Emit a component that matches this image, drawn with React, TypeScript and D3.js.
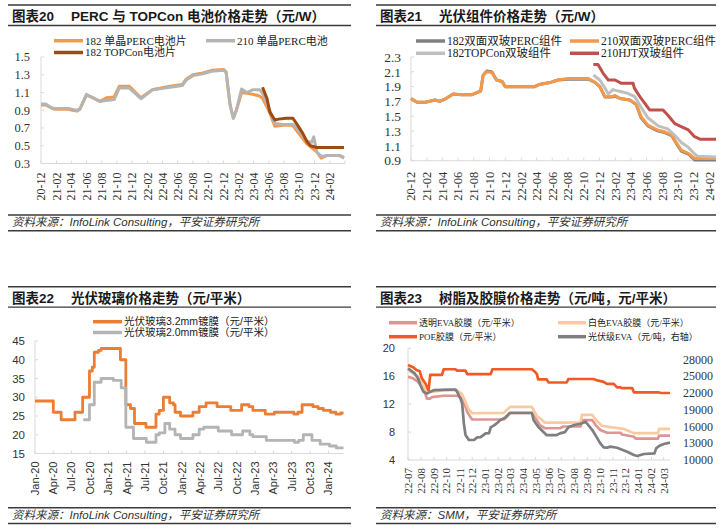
import React from "react";
import * as d3 from "d3";

type Pt = [string, number];
const parseDate = d3.timeParse("%Y-%m-%d") as (s: string) => Date;

// ---------------- 图表20 data ----------------
const C20_PERC182: Pt[] = [
  ["2020-12-01", 0.96], ["2020-12-20", 0.96], ["2021-01-10", 0.93], ["2021-01-25", 0.91], ["2021-03-20", 0.91],
  ["2021-04-05", 0.9], ["2021-04-25", 0.89], ["2021-05-05", 0.91], ["2021-06-01", 1.07], ["2021-06-20", 1.05],
  ["2021-07-25", 1.0], ["2021-08-20", 1.04], ["2021-09-20", 1.05], ["2021-10-10", 1.17], ["2021-11-20", 1.17],
  ["2022-01-05", 1.04], ["2022-02-20", 1.13], ["2022-05-01", 1.17], ["2022-06-20", 1.19], ["2022-07-05", 1.25],
  ["2022-08-01", 1.3], ["2022-09-10", 1.32], ["2022-10-15", 1.35], ["2022-12-01", 1.36], ["2022-12-12", 1.33],
  ["2022-12-28", 0.96], ["2023-01-10", 0.81], ["2023-01-22", 0.9], ["2023-02-12", 1.1], ["2023-03-05", 1.09],
  ["2023-03-28", 1.08], ["2023-04-25", 1.06], ["2023-05-08", 1.03], ["2023-06-05", 0.87], ["2023-06-25", 0.72],
  ["2023-07-28", 0.73], ["2023-09-05", 0.73], ["2023-09-20", 0.67], ["2023-11-01", 0.52], ["2023-12-10", 0.43],
  ["2023-12-28", 0.36], ["2024-01-20", 0.39], ["2024-03-10", 0.39], ["2024-03-28", 0.37],
];
const C20_PERC210: Pt[] = [
  ["2020-12-01", 0.97], ["2020-12-20", 0.97], ["2021-01-10", 0.93], ["2021-01-25", 0.92], ["2021-03-20", 0.92],
  ["2021-04-20", 0.9], ["2021-05-05", 0.91], ["2021-06-01", 1.08], ["2021-06-20", 1.05], ["2021-07-25", 1.0],
  ["2021-09-20", 1.02], ["2021-10-10", 1.15], ["2021-11-20", 1.15], ["2022-01-05", 1.03], ["2022-02-20", 1.13],
  ["2022-05-01", 1.16], ["2022-06-20", 1.18], ["2022-07-05", 1.24], ["2022-08-01", 1.29], ["2022-09-10", 1.31],
  ["2022-10-15", 1.34], ["2022-12-01", 1.35], ["2022-12-12", 1.33], ["2022-12-28", 0.96], ["2023-01-10", 0.81],
  ["2023-01-22", 0.9], ["2023-02-12", 1.14], ["2023-03-05", 1.1], ["2023-03-28", 1.13], ["2023-04-25", 1.13],
  ["2023-05-05", 1.1], ["2023-06-05", 0.9], ["2023-06-25", 0.75], ["2023-07-28", 0.74], ["2023-09-05", 0.74],
  ["2023-09-20", 0.7], ["2023-11-01", 0.55], ["2023-11-20", 0.54], ["2023-11-28", 0.6], ["2023-12-10", 0.43],
  ["2023-12-28", 0.38], ["2024-01-20", 0.39], ["2024-03-10", 0.39], ["2024-03-28", 0.36],
];
const C20_TOPCON182: Pt[] = [
  ["2023-05-07", 1.16], ["2023-05-25", 1.03], ["2023-06-05", 0.88], ["2023-06-25", 0.79], ["2023-07-10", 0.8],
  ["2023-08-10", 0.81], ["2023-09-05", 0.81], ["2023-09-20", 0.75], ["2023-10-15", 0.64], ["2023-11-01", 0.545],
  ["2023-11-15", 0.5], ["2023-12-10", 0.48], ["2024-03-28", 0.48],
];
const C20_YTICKS = [0.3, 0.5, 0.7, 0.9, 1.1, 1.3, 1.5];
const C20_LEGEND = ["182 单晶PERC电池片", "210 单晶PERC电池", "182 TOPCon电池片"];

// ---------------- 图表21 data ----------------
const C21_PERC182: Pt[] = [
  ["2020-12-01", 1.74], ["2020-12-24", 1.69], ["2021-01-25", 1.69], ["2021-02-20", 1.71], ["2021-03-04", 1.72],
  ["2021-03-22", 1.7], ["2021-04-11", 1.73], ["2021-05-13", 1.8], ["2021-06-15", 1.79], ["2021-07-23", 1.79],
  ["2021-08-13", 1.82], ["2021-08-28", 1.84], ["2021-09-06", 2.05], ["2021-09-20", 2.11], ["2021-10-10", 2.1],
  ["2021-10-28", 1.99], ["2021-11-19", 1.97], ["2021-12-01", 1.9], ["2022-03-25", 1.9], ["2022-04-12", 1.93],
  ["2022-05-28", 1.96], ["2022-06-23", 1.99], ["2022-08-01", 2.0], ["2022-10-19", 2.0], ["2022-11-12", 1.96],
  ["2022-12-02", 1.9], ["2022-12-22", 1.76], ["2023-01-16", 1.76], ["2023-01-30", 1.77], ["2023-02-18", 1.74],
  ["2023-03-28", 1.72], ["2023-04-22", 1.66], ["2023-05-11", 1.48], ["2023-06-06", 1.37], ["2023-07-16", 1.3],
  ["2023-08-10", 1.28], ["2023-09-06", 1.24], ["2023-09-25", 1.13], ["2023-10-13", 1.03], ["2023-11-10", 0.99],
  ["2023-12-04", 0.91], ["2024-02-25", 0.91],
];
const C21_PERC210: Pt[] = [
  ["2020-12-01", 1.74], ["2020-12-24", 1.69], ["2021-01-25", 1.69], ["2021-02-20", 1.71], ["2021-03-04", 1.72],
  ["2021-03-22", 1.7], ["2021-04-11", 1.73], ["2021-05-13", 1.8], ["2021-06-15", 1.79], ["2021-07-23", 1.79],
  ["2021-08-13", 1.82], ["2021-08-28", 1.84], ["2021-09-06", 2.05], ["2021-09-20", 2.1], ["2021-10-10", 2.09],
  ["2021-10-28", 1.99], ["2021-11-19", 1.97], ["2021-12-01", 1.9], ["2022-03-25", 1.9], ["2022-04-12", 1.93],
  ["2022-05-28", 1.96], ["2022-06-23", 1.99], ["2022-08-01", 2.01], ["2022-10-19", 2.01], ["2022-11-12", 1.96],
  ["2022-12-02", 1.9], ["2022-12-22", 1.765], ["2023-01-16", 1.765], ["2023-01-30", 1.78], ["2023-02-18", 1.74],
  ["2023-03-28", 1.72], ["2023-04-22", 1.66], ["2023-05-11", 1.495], ["2023-06-06", 1.38], ["2023-07-16", 1.31],
  ["2023-08-10", 1.29], ["2023-09-06", 1.25], ["2023-09-25", 1.14], ["2023-10-13", 1.044], ["2023-11-10", 1.0],
  ["2023-12-04", 0.93], ["2024-02-25", 0.93],
];
const C21_TOPCON182: Pt[] = [
  ["2022-11-07", 2.057], ["2022-12-02", 1.99], ["2022-12-22", 1.88], ["2023-01-04", 1.8], ["2023-01-22", 1.86],
  ["2023-02-12", 1.84], ["2023-03-20", 1.81], ["2023-04-15", 1.77], ["2023-05-11", 1.62], ["2023-06-06", 1.48],
  ["2023-07-16", 1.37], ["2023-08-22", 1.33], ["2023-09-19", 1.24], ["2023-10-13", 1.15], ["2023-11-10", 1.08],
  ["2023-12-04", 0.99], ["2023-12-16", 0.96], ["2024-02-25", 0.95],
];
const C21_HJT210: Pt[] = [
  ["2022-11-07", 2.2], ["2022-11-25", 2.2], ["2022-12-15", 2.08], ["2023-01-04", 1.99], ["2023-01-30", 1.99],
  ["2023-02-24", 1.945], ["2023-04-10", 1.945], ["2023-04-15", 1.88], ["2023-05-11", 1.74], ["2023-06-13", 1.585],
  ["2023-08-04", 1.585], ["2023-08-22", 1.517], ["2023-09-19", 1.4], ["2023-10-13", 1.36], ["2023-11-10", 1.315],
  ["2023-12-04", 1.224], ["2023-12-25", 1.19], ["2024-02-25", 1.19],
];
const C21_YTICKS = [0.9, 1.1, 1.3, 1.5, 1.7, 1.9, 2.1, 2.3];
const C21_LEGEND = ["182双面双玻PERC组件", "210双面双玻PERC组件", "182TOPCon双玻组件", "210HJT双玻组件"];

// ---------------- 图表22 data ----------------
const C22_GLASS32: Pt[] = [
  ["2020-01-01", 29], ["2020-04-01", 26], ["2020-05-10", 24], ["2020-07-18", 26], ["2020-08-25", 30],
  ["2020-09-28", 37], ["2020-10-12", 38], ["2020-10-22", 42], ["2020-11-12", 42.5], ["2020-11-25", 43],
  ["2021-03-01", 40], ["2021-03-28", 28], ["2021-04-20", 27], ["2021-05-10", 23], ["2021-07-06", 22],
  ["2021-08-25", 25.5], ["2021-09-10", 26.5], ["2021-10-01", 30], ["2021-11-01", 28.5], ["2021-11-20", 28],
  ["2021-11-28", 26], ["2021-12-25", 25], ["2022-02-25", 26], ["2022-03-28", 27.5], ["2022-05-01", 28.5],
  ["2022-06-25", 27.5], ["2022-09-01", 26.5], ["2022-10-25", 28], ["2022-12-01", 27.5], ["2022-12-20", 26.5],
  ["2023-02-20", 25.5], ["2023-04-06", 26], ["2023-07-12", 25.5], ["2023-08-01", 26], ["2023-08-22", 28],
  ["2023-10-15", 27.5], ["2023-11-10", 27], ["2023-12-06", 26.5], ["2024-01-10", 26], ["2024-02-06", 25.5],
  ["2024-03-01", 25.8], ["2024-03-15", 25.8],
];
const C22_GLASS20: Pt[] = [
  ["2020-08-28", 24], ["2020-09-28", 28], ["2020-10-22", 34], ["2020-11-25", 35], ["2021-01-25", 34.5],
  ["2021-03-05", 32.5], ["2021-03-28", 22], ["2021-05-05", 19], ["2021-07-08", 18], ["2021-08-25", 20],
  ["2021-09-10", 20.5], ["2021-10-08", 23], ["2021-11-01", 21.5], ["2021-11-28", 20], ["2021-12-25", 19],
  ["2022-02-25", 20], ["2022-03-28", 21.5], ["2022-04-20", 22], ["2022-07-01", 21], ["2022-09-05", 20],
  ["2022-10-30", 21], ["2022-12-05", 20], ["2022-12-20", 19.5], ["2023-02-25", 18.5], ["2023-07-15", 18],
  ["2023-08-05", 18.5], ["2023-08-28", 20], ["2023-10-10", 18.5], ["2023-11-20", 17.5], ["2024-01-05", 17],
  ["2024-02-08", 16.5], ["2024-03-15", 16.5],
];
const C22_YTICKS = [15, 20, 25, 30, 35, 40, 45];
const C22_LEGEND = ["光伏玻璃3.2mm镀膜（元/平米）", "光伏玻璃2.0mm镀膜（元/平米）"];

// ---------------- 图表23 data ----------------
const C23_EVA_CLEAR: Pt[] = [
  ["2022-07-01", 15.9], ["2022-07-13", 15.7], ["2022-07-25", 15.2], ["2022-08-03", 14.5], ["2022-08-11", 13.55],
  ["2022-08-15", 12.8], ["2022-08-23", 12.8], ["2022-08-27", 13.0], ["2022-09-24", 13.2], ["2022-10-26", 13.2],
  ["2022-11-03", 13.0], ["2022-11-11", 12.35], ["2022-11-19", 10.9], ["2022-11-27", 10.1], ["2022-12-01", 9.8],
  ["2023-02-14", 9.8], ["2023-02-18", 10.0], ["2023-03-01", 10.7], ["2023-04-22", 10.7], ["2023-05-04", 9.7],
  ["2023-05-11", 9.0], ["2023-05-23", 8.55], ["2023-06-28", 8.55], ["2023-07-06", 8.8], ["2023-08-16", 8.8],
  ["2023-08-19", 9.7], ["2023-09-13", 9.7], ["2023-09-21", 9.0], ["2023-10-02", 8.3], ["2023-10-18", 7.9],
  ["2023-11-19", 7.9], ["2023-11-23", 7.65], ["2023-12-21", 7.33], ["2023-12-25", 7.05], ["2024-02-16", 7.05],
  ["2024-02-19", 7.5], ["2024-03-16", 7.5],
];
const C23_EVA_WHITE: Pt[] = [
  ["2022-07-01", 16.9], ["2022-07-25", 15.9], ["2022-08-07", 14.5], ["2022-08-15", 13.8], ["2022-08-31", 13.8],
  ["2022-09-24", 14.0], ["2022-10-26", 14.0], ["2022-11-07", 13.4], ["2022-11-15", 12.3], ["2022-11-23", 11.2],
  ["2022-12-01", 10.7], ["2023-02-14", 10.75], ["2023-03-01", 11.6], ["2023-04-22", 11.6], ["2023-05-04", 10.3],
  ["2023-05-11", 10.0], ["2023-05-23", 9.35], ["2023-07-06", 9.35], ["2023-08-16", 9.4], ["2023-08-19", 10.45],
  ["2023-09-13", 10.45], ["2023-09-25", 9.5], ["2023-10-06", 8.9], ["2023-10-26", 8.7], ["2023-11-27", 8.45],
  ["2023-12-21", 7.85], ["2024-02-16", 7.85], ["2024-02-19", 8.45], ["2024-03-16", 8.45],
];
const C23_POE: Pt[] = [
  ["2022-07-01", 17.6], ["2022-07-13", 17.3], ["2022-07-21", 16.9], ["2022-07-29", 16.7], ["2022-08-03", 15.7],
  ["2022-08-11", 15.0], ["2022-08-15", 14.5], ["2022-08-19", 14.0], ["2022-08-23", 16.2], ["2022-09-20", 16.2],
  ["2022-09-24", 17.0], ["2022-10-22", 17.0], ["2022-10-26", 16.8], ["2022-11-15", 16.8], ["2022-11-19", 16.3],
  ["2023-01-14", 16.3], ["2023-01-18", 17.0], ["2023-04-22", 17.0], ["2023-04-30", 16.6], ["2023-05-04", 16.3],
  ["2023-05-07", 15.55], ["2023-05-27", 15.55], ["2023-06-01", 15.1], ["2023-07-14", 15.1], ["2023-07-18", 15.6],
  ["2023-09-16", 15.6], ["2023-09-25", 15.4], ["2023-10-10", 15.2], ["2023-10-18", 14.9], ["2023-11-03", 14.9],
  ["2023-11-11", 14.4], ["2023-11-19", 14.4], ["2023-11-23", 14.3], ["2023-12-17", 14.3], ["2023-12-21", 13.7],
  ["2024-02-16", 13.7], ["2024-02-24", 13.6], ["2024-03-16", 13.6],
];
const C23_EVA_RESIN: Pt[] = [
  ["2022-07-01", 26400], ["2022-07-17", 25500], ["2022-07-25", 24600], ["2022-07-29", 23700], ["2022-08-03", 22800],
  ["2022-08-07", 22200], ["2022-08-15", 21900], ["2022-08-23", 22200], ["2022-08-31", 22500], ["2022-10-10", 22600],
  ["2022-10-22", 22600], ["2022-10-26", 22200], ["2022-11-03", 21000], ["2022-11-07", 20100], ["2022-11-11", 16560],
  ["2022-11-15", 14470], ["2022-11-23", 13580], ["2022-12-05", 13580], ["2022-12-13", 14060], ["2022-12-21", 14100],
  ["2023-01-02", 14770], ["2023-01-10", 14800], ["2023-01-14", 15850], ["2023-01-22", 16200], ["2023-01-30", 16670],
  ["2023-02-06", 17150], ["2023-02-18", 17630], ["2023-03-01", 18460], ["2023-04-22", 18460], ["2023-04-26", 17150],
  ["2023-05-07", 15960], ["2023-05-19", 15060], ["2023-05-27", 14470], ["2023-06-20", 14470], ["2023-06-28", 14770],
  ["2023-07-10", 15000], ["2023-07-18", 15850], ["2023-08-01", 16260], ["2023-08-16", 16500], ["2023-08-28", 16850],
  ["2023-09-13", 15360], ["2023-09-25", 13880], ["2023-10-02", 12980], ["2023-10-10", 12270], ["2023-10-18", 12200],
  ["2023-10-26", 12400], ["2023-11-11", 12200], ["2023-12-05", 11490], ["2023-12-21", 10890], ["2023-12-29", 10710],
  ["2024-01-14", 11070], ["2024-02-08", 11190], ["2024-02-12", 12090], ["2024-02-19", 12500], ["2024-03-01", 12860],
  ["2024-03-16", 13100],
];
const C23_YTICKS_L = [4, 8, 12, 16, 20];
const C23_YTICKS_R = [10000, 13000, 16000, 19000, 22000, 25000, 28000];
const C23_LEGEND = ["透明EVA胶膜（元/平米）", "白色EVA胶膜（元/平米）", "POE胶膜（元/平米）", "光伏级EVA（元/吨，右轴）"];

// ---------------- styling ----------------
const SERIF = "'Liberation Serif','Times New Roman','Noto Sans CJK SC',serif";
const SANS = "'Liberation Sans',Arial,'Noto Sans CJK SC',sans-serif";
const AXIS = "#D9D9D9";
const RULE = "#3a3a3a";

type LineProps = { data: Pt[]; x: (d: Date) => number; y: (v: number) => number; color: string; w?: number; step?: boolean };
function Series({ data, x, y, color, w = 3, step }: LineProps) {
  const gen = d3
    .line<Pt>()
    .x((d) => x(parseDate(d[0])))
    .y((d) => y(d[1]))
    .curve(step ? d3.curveStepAfter : d3.curveLinear);
  return <path d={gen(data) || ""} fill="none" stroke={color} strokeWidth={w} strokeLinejoin="round" />;
}

type FrameProps = { x0: number; x1: number; top: number; tag: string; title: string; source: string };
function Frame({ x0, x1, top, tag, title, source }: FrameProps) {
  const srcTop = top === 5 ? 215 : 507.7;
  return (
    <g>
      <line x1={x0} x2={x1} y1={top} y2={top} stroke={RULE} strokeWidth={1.5} />
      <text x={x0 + 4} y={top + 16} fontFamily={SANS} fontWeight="bold" fontSize={13.5} fill="#1a1a1a">{tag}</text>
      <text x={x0 + 63} y={top + 16} fontFamily={SANS} fontWeight="bold" fontSize={13.5} fill="#1a1a1a">{title}</text>
      <line x1={x0} x2={x1} y1={top + 20.5} y2={top + 20.5} stroke={RULE} strokeWidth={1.3} />
      <line x1={x0} x2={x1} y1={srcTop} y2={srcTop} stroke={RULE} strokeWidth={1.5} />
      <text x={x0 + 4} y={srcTop + 11} fontFamily={SANS} fontStyle="italic" fontSize={11.5} fill="#333">{source}</text>
      <line x1={x0} x2={x1} y1={srcTop + 15.7} y2={srcTop + 15.7} stroke={RULE} strokeWidth={1.5} />
    </g>
  );
}

function LegendItem({ x, y, color, label, font, size, w = 3.5, len = 29 }: { x: number; y: number; color: string; label: string; font: string; size: number; w?: number; len?: number }) {
  return (
    <g>
      <line x1={x} x2={x + len} y1={y} y2={y} stroke={color} strokeWidth={w} />
      <text x={x + len + 2} y={y} dy="0.36em" fontFamily={font} fontSize={size} fill="#222">{label}</text>
    </g>
  );
}

type AxisProps = {
  x: d3.ScaleTime<number, number>;
  y: d3.ScaleLinear<number, number>;
  xTicks: Date[];
  xLabels: Date[];
  fmt: (d: Date) => string;
  yTicks: number[];
  yFmt: (v: number) => string;
  xFont: string; xSize: number; yFont: string; ySize: number;
  yLabelGap: number; xLabelGap: number;
};
function Axes({ x, y, xTicks, xLabels, fmt, yTicks, yFmt, xFont, xSize, yFont, ySize, yLabelGap, xLabelGap }: AxisProps) {
  const [x0, x1] = x.range();
  const [yb, yt] = y.range();
  return (
    <g>
      <line x1={x0} x2={x0} y1={yt} y2={yb} stroke={AXIS} strokeWidth={1} />
      <line x1={x0} x2={x1} y1={yb} y2={yb} stroke={AXIS} strokeWidth={1} />
      {yTicks.map((v) => (
        <g key={"y" + v}>
          <line x1={x0} x2={x0 + 3} y1={y(v)} y2={y(v)} stroke={AXIS} />
          <text x={x0 - yLabelGap} y={y(v)} dy="0.35em" textAnchor="end" fontFamily={yFont} fontSize={ySize} fill="#333">{yFmt(v)}</text>
        </g>
      ))}
      {xTicks.map((d, i) => (
        <line key={"xt" + i} x1={x(d)} x2={x(d)} y1={yb} y2={yb - 3} stroke={AXIS} />
      ))}
      {xLabels.map((d, i) => (
        <text key={"xl" + i} transform={`translate(${x(d)},${yb + xLabelGap}) rotate(-90)`} dy="0.35em" textAnchor="end" fontFamily={xFont} fontSize={xSize} fill="#333">
          {fmt(d)}
        </text>
      ))}
    </g>
  );
}

function Chart20() {
  const x = d3.scaleTime().domain([parseDate("2020-12-01"), parseDate("2024-04-01")]).range([41, 345]);
  const y = d3.scaleLinear().domain([0.3, 1.5]).range([163.5, 57]);
  const ticks = d3.timeMonth.range(parseDate("2020-12-01"), parseDate("2024-04-02"), 2);
  const labels = ticks.filter((d) => d < parseDate("2024-03-01"));
  return (
    <g>
      <Frame x0={8} x1={351} top={5} tag="图表20" title="PERC 与 TOPCon 电池价格走势（元/W）" source="资料来源：InfoLink Consulting，平安证券研究所" />
      <LegendItem x={54} y={40.7} color="#F4994A" label={C20_LEGEND[0]} font={SERIF} size={11} />
      <LegendItem x={206} y={40.7} color="#B4B4B4" label={C20_LEGEND[1]} font={SERIF} size={11} />
      <LegendItem x={54} y={52.5} color="#9E4A10" label={C20_LEGEND[2]} font={SERIF} size={11} />
      <Axes x={x} y={y} xTicks={ticks} xLabels={labels} fmt={d3.timeFormat("%y-%m")} yTicks={C20_YTICKS} yFmt={d3.format(".1f")}
        xFont={SERIF} xSize={12} yFont={SERIF} ySize={12.5} yLabelGap={11} xLabelGap={9} />
      <Series data={C20_PERC182} x={x} y={y} color="#F4994A" />
      <Series data={C20_PERC210} x={x} y={y} color="#B4B4B4" />
      <Series data={C20_TOPCON182} x={x} y={y} color="#9E4A10" />
    </g>
  );
}

function Chart21() {
  const x = d3.scaleTime().domain([parseDate("2020-12-01"), parseDate("2024-02-25")]).range([411, 716]);
  const y = d3.scaleLinear().domain([0.9, 2.3]).range([160.7, 57]);
  const ticks = d3.timeMonth.range(parseDate("2020-12-01"), parseDate("2024-02-02"), 2);
  return (
    <g>
      <Frame x0={376} x1={716} top={5} tag="图表21" title="光伏组件价格走势（元/W）" source="资料来源：InfoLink Consulting，平安证券研究所" />
      <LegendItem x={416} y={41} color="#808080" label={C21_LEGEND[0]} font={SERIF} size={11.5} />
      <LegendItem x={570} y={41} color="#F4994A" label={C21_LEGEND[1]} font={SERIF} size={11.5} />
      <LegendItem x={416} y={53.3} color="#BFBFBF" label={C21_LEGEND[2]} font={SERIF} size={11.5} />
      <LegendItem x={570} y={53.3} color="#C0504D" label={C21_LEGEND[3]} font={SERIF} size={11.5} />
      <Axes x={x} y={y} xTicks={ticks} xLabels={ticks} fmt={d3.timeFormat("%y-%m")} yTicks={C21_YTICKS} yFmt={d3.format(".1f")}
        xFont={SERIF} xSize={12.5} yFont={SERIF} ySize={13.5} yLabelGap={10} xLabelGap={11} />
      <Series data={C21_PERC182} x={x} y={y} color="#808080" />
      <Series data={C21_PERC210} x={x} y={y} color="#F4994A" />
      <Series data={C21_TOPCON182} x={x} y={y} color="#BFBFBF" />
      <Series data={C21_HJT210} x={x} y={y} color="#C0504D" />
    </g>
  );
}

function Chart22() {
  const x = d3.scaleTime().domain([parseDate("2020-01-01"), parseDate("2024-03-15")]).range([35, 343.5]);
  const y = d3.scaleLinear().domain([15, 45]).range([453.5, 341]);
  const ticks = d3.timeMonth.range(parseDate("2020-01-01"), parseDate("2024-03-15"), 3);
  return (
    <g>
      <Frame x0={8} x1={351} top={286.7} tag="图表22" title="光伏玻璃价格走势（元/平米）" source="资料来源：InfoLink Consulting，平安证券研究所" />
      <LegendItem x={93} y={321.7} color="#ED7D31" label={C22_LEGEND[0]} font={SANS} size={10.5} />
      <LegendItem x={93} y={332.5} color="#B4B4B4" label={C22_LEGEND[1]} font={SANS} size={10.5} />
      <Axes x={x} y={y} xTicks={ticks} xLabels={ticks} fmt={d3.timeFormat("%b-%y")} yTicks={C22_YTICKS} yFmt={d3.format("d")}
        xFont={SANS} xSize={11} yFont={SANS} ySize={11.5} yLabelGap={10} xLabelGap={8} />
      <Series data={C22_GLASS32} x={x} y={y} color="#ED7D31" w={2.8} step />
      <Series data={C22_GLASS20} x={x} y={y} color="#B4B4B4" w={2.8} step />
    </g>
  );
}

function Chart23() {
  const x = d3.scaleTime().domain([parseDate("2022-07-01"), parseDate("2024-03-16")]).range([408, 670]);
  const y = d3.scaleLinear().domain([4, 20]).range([460, 348.3]);
  const yR = d3.scaleLinear().domain([10000, 30000]).range([460, 348.3]);
  const ticks = d3.timeMonth.range(parseDate("2022-07-01"), parseDate("2024-03-02"), 1);
  return (
    <g>
      <Frame x0={376} x1={716} top={286.7} tag="图表23" title="树脂及胶膜价格走势（元/吨，元/平米）" source="资料来源：SMM，平安证券研究所" />
      <LegendItem x={389} y={322.7} color="#DE9694" label={C23_LEGEND[0]} font={SERIF} size={9} w={3.5} len={28} />
      <LegendItem x={558} y={322.7} color="#FAC9A0" label={C23_LEGEND[1]} font={SERIF} size={9} w={3.5} len={28} />
      <LegendItem x={389} y={336.7} color="#F15A24" label={C23_LEGEND[2]} font={SERIF} size={9} w={3.5} len={28} />
      <LegendItem x={558} y={336.7} color="#7F7F7F" label={C23_LEGEND[3]} font={SERIF} size={9} w={3.5} len={28} />
      <Axes x={x} y={y} xTicks={ticks} xLabels={ticks} fmt={d3.timeFormat("%y-%m")} yTicks={C23_YTICKS_L} yFmt={d3.format("d")}
        xFont={SERIF} xSize={11} yFont={SANS} ySize={11} yLabelGap={13} xLabelGap={8} />
      {C23_YTICKS_R.map((v) => (
        <text key={v} x={683} y={yR(v)} dy="0.35em" fontFamily={SERIF} fontSize={12} fill="#333">{v}</text>
      ))}
      <Series data={C23_EVA_CLEAR} x={x} y={y} color="#DE9694" w={2.7} />
      <Series data={C23_EVA_WHITE} x={x} y={y} color="#FAC9A0" w={2.7} />
      <Series data={C23_POE} x={x} y={y} color="#F15A24" w={2.7} />
      <Series data={C23_EVA_RESIN} x={x} y={yR} color="#7F7F7F" w={2.7} />
    </g>
  );
}

export default function App() {
  return (
    <div style={{ position: "absolute", left: 0, top: 0, width: 726, height: 531, background: "#fff" }}>
      <svg width={726} height={531} viewBox="0 0 726 531" style={{ display: "block" }}>
        <rect width={726} height={531} fill="#fff" />
        <Chart20 />
        <Chart21 />
        <Chart22 />
        <Chart23 />
      </svg>
    </div>
  );
}
